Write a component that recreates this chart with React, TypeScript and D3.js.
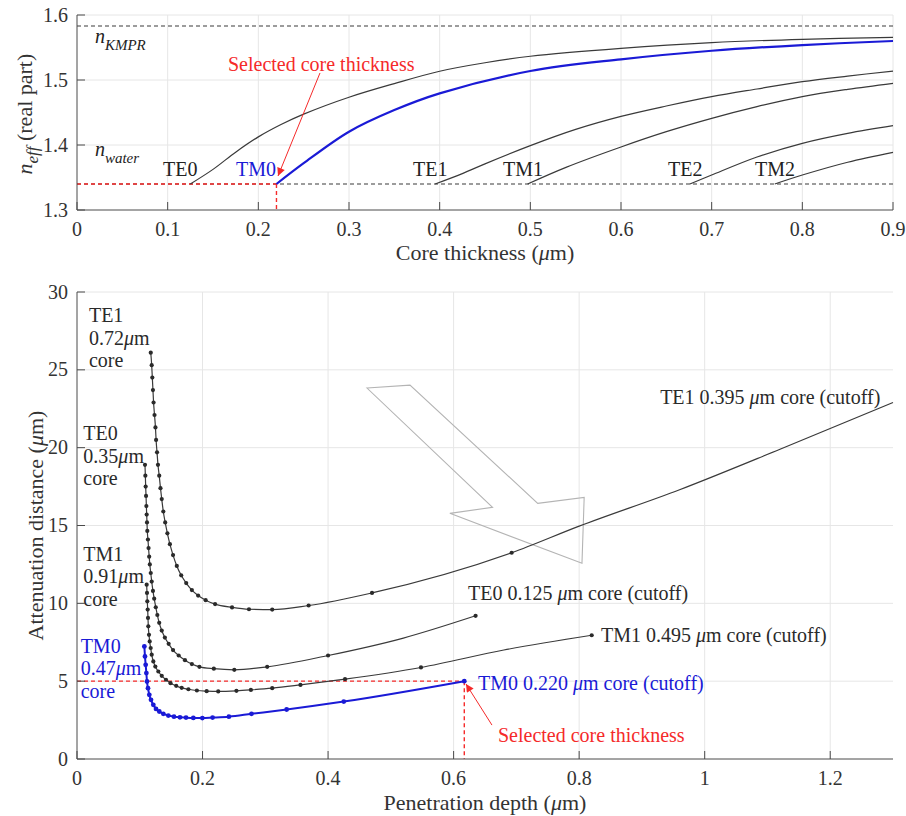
import React from 'react';
import * as d3 from 'd3';

type P = [number, number];

// ---------- Top panel: effective index vs core thickness ----------
const topXTicks = [0, 0.1, 0.2, 0.3, 0.4, 0.5, 0.6, 0.7, 0.8, 0.9];
const topYTicks = [1.3, 1.4, 1.5, 1.6];
const nKMPR = 1.583;
const nWater = 1.34;
const selectedCore = 0.22;

const te0Neff: P[] = [
  [0.125, 1.34], [0.15, 1.3625], [0.175, 1.389], [0.2, 1.4125], [0.225, 1.4315], [0.25, 1.4475],
  [0.3, 1.4735], [0.35, 1.4945], [0.4, 1.5135], [0.45, 1.5265], [0.5, 1.5365], [0.6, 1.5487], [0.7, 1.5575],
  [0.8, 1.5626], [0.9, 1.5657],
];
const tm0Neff: P[] = [
  [0.22, 1.34], [0.25, 1.372], [0.3, 1.4205], [0.35, 1.4538], [0.4, 1.4795], [0.5, 1.5138],
  [0.6, 1.5318], [0.7, 1.545], [0.8, 1.5538], [0.9, 1.56],
];
const te1Neff: P[] = [
  [0.395, 1.34], [0.425, 1.356], [0.45, 1.371], [0.5, 1.399], [0.55, 1.424], [0.6, 1.444],
  [0.65, 1.46], [0.7, 1.4744], [0.75, 1.4862], [0.8, 1.4974], [0.85, 1.506], [0.9, 1.5138],
];
const tm1Neff: P[] = [
  [0.497, 1.34], [0.54, 1.366], [0.6, 1.397], [0.65, 1.4205], [0.7, 1.441], [0.75, 1.459],
  [0.8, 1.4744], [0.85, 1.4856], [0.9, 1.4949],
];
const te2Neff: P[] = [
  [0.676, 1.34], [0.7, 1.3538], [0.75, 1.3815], [0.8, 1.4026], [0.85, 1.4179], [0.9, 1.4297],
];
const tm2Neff: P[] = [
  [0.7696, 1.34], [0.8, 1.3538], [0.85, 1.3735], [0.9, 1.3887],
];
const topModeLabels: { name: string; x: number; y: number }[] = [
  { name: 'TE0', x: 0.0949, y: 1.3523 },
  { name: 'TM0', x: 0.1754, y: 1.3523 },
  { name: 'TE1', x: 0.3706, y: 1.3523 },
  { name: 'TM1', x: 0.4699, y: 1.3523 },
  { name: 'TE2', x: 0.6518, y: 1.3523 },
  { name: 'TM2', x: 0.7478, y: 1.3523 },
];

// ---------- Bottom panel: attenuation distance vs penetration depth ----------
const bottomXTicks = [0, 0.2, 0.4, 0.6, 0.8, 1, 1.2];
const bottomYTicks = [0, 5, 10, 15, 20, 25, 30];
const selectedAtten = 5;
const selectedDepth = 0.617;

const te1Dots: P[] = [
  [0.1175, 26.1], [0.119, 25.3], [0.12, 24.5], [0.121, 23.7], [0.122, 22.9], [0.1235, 22.1],
  [0.125, 21.3], [0.126, 20.5], [0.1275, 19.7], [0.129, 18.9], [0.131, 18.2], [0.133, 17.4],
  [0.135, 16.7], [0.1375, 15.9], [0.1405, 15.2], [0.144, 14.5], [0.148, 13.8], [0.153, 13.1],
  [0.159, 12.4], [0.166, 11.8], [0.174, 11.3], [0.183, 10.85], [0.193, 10.5], [0.205, 10.2],
  [0.22, 9.95], [0.247, 9.74], [0.274, 9.62], [0.311, 9.6], [0.369, 9.86], [0.47, 10.67],
  [0.6925, 13.25],
];
const te1Bends: P[] = [[0.8, 14.96], [0.96, 17.3], [1.12, 19.9], [1.3, 22.9]];

const te0Dots: P[] = [
  [0.1083, 18.9], [0.1089, 18.2], [0.1094, 17.5], [0.11, 16.9], [0.1105, 16.25], [0.111, 15.7],
  [0.1115, 15.2], [0.112, 14.65], [0.113, 14.1], [0.114, 13.55], [0.115, 13.0], [0.116, 12.5],
  [0.1175, 11.95], [0.119, 11.4], [0.121, 10.8], [0.123, 10.3], [0.1255, 9.75], [0.128, 9.25],
  [0.131, 8.75], [0.135, 8.25], [0.14, 7.8], [0.146, 7.4], [0.153, 7.0], [0.162, 6.65],
  [0.172, 6.35], [0.183, 6.1], [0.195, 5.92], [0.218, 5.8], [0.2506, 5.73], [0.303, 5.92],
  [0.4, 6.65], [0.635, 9.2],
];
const te0Bends: P[] = [[0.52, 7.77]];

const tm1Dots: P[] = [
  [0.111, 11.2], [0.1115, 10.67], [0.112, 10.13], [0.1126, 9.6], [0.1131, 9.06], [0.1136, 8.52],
  [0.1147, 7.98], [0.1158, 7.55], [0.1174, 7.13], [0.119, 6.7], [0.1216, 6.27], [0.1248, 5.94],
  [0.1296, 5.62], [0.135, 5.34], [0.1418, 5.09], [0.149, 4.87], [0.158, 4.7], [0.1668, 4.57],
  [0.1775, 4.48], [0.191, 4.4], [0.2066, 4.36], [0.225, 4.34], [0.254, 4.38], [0.277, 4.44],
  [0.311, 4.55], [0.356, 4.76], [0.427, 5.13], [0.548, 5.88], [0.82, 7.95],
];
const tm1Bends: P[] = [[0.68, 7.0]];

const tm0Dots: P[] = [
  [0.1073, 7.23], [0.1083, 6.59], [0.1094, 6.05], [0.1105, 5.52], [0.1115, 4.98], [0.1131, 4.55],
  [0.1152, 4.12], [0.1179, 3.8], [0.1216, 3.48], [0.1259, 3.22], [0.1311, 3.05], [0.1375, 2.9],
  [0.1455, 2.79], [0.1545, 2.72], [0.164, 2.68], [0.1737, 2.66], [0.1853, 2.64], [0.1997, 2.63],
  [0.216, 2.66], [0.242, 2.72], [0.278, 2.9], [0.334, 3.18], [0.425, 3.69], [0.617, 5.0],
];

const hollowArrow: P[] = [
  [0.462, 23.83], [0.5305, 24.02], [0.734, 16.42], [0.808, 16.8], [0.8045, 12.57], [0.594, 15.78], [0.662, 16.17],
];

const FONT = '"Liberation Serif", "Times New Roman", serif';
const BLUE = '#1a1ad6';
const RED = '#f52a2a';
const INK = '#3a3a3a';
const AXIS = '#4a4a4a';
const GRID = '#e6e6e6';
const FS = 20;
const LFS = 22;

const merge = (a: P[], b: P[]) => [...a, ...b].sort((p, q) => p[0] - q[0]);

export default function App() {
  const xT = d3.scaleLinear().domain([0, 0.9]).range([77, 893]);
  const yT = d3.scaleLinear().domain([1.3, 1.6]).range([210, 15]);
  const xB = d3.scaleLinear().domain([0, 1.3]).range([77, 893]);
  const yB = d3.scaleLinear().domain([0, 30]).range([759, 292]);
  const lineT = d3.line<P>().x(d => xT(d[0])).y(d => yT(d[1])).curve(d3.curveCatmullRom.alpha(0.5));
  const lineB = d3.line<P>().x(d => xB(d[0])).y(d => yB(d[1])).curve(d3.curveMonotoneX);

  const topCurves = [
    { data: te0Neff, blue: false },
    { data: te1Neff, blue: false },
    { data: tm1Neff, blue: false },
    { data: te2Neff, blue: false },
    { data: tm2Neff, blue: false },
    { data: tm0Neff, blue: true },
  ];
  const bottomCurves = [
    { dots: te1Dots, line: merge(te1Dots, te1Bends), blue: false },
    { dots: te0Dots, line: merge(te0Dots, te0Bends), blue: false },
    { dots: tm1Dots, line: merge(tm1Dots, tm1Bends), blue: false },
    { dots: tm0Dots, line: tm0Dots, blue: true },
  ];

  const mu = (pre: string, post: string) => (
    <>
      {pre}<tspan fontStyle="italic">μ</tspan>{post}
    </>
  );

  const stacked = (x: number, y: number, lines: React.ReactNode[], color: string) => (
    <text x={xB(x)} y={yB(y)} fill={color} fontSize={FS} fontFamily={FONT}>
      {lines.map((l, i) => (
        <tspan key={i} x={xB(x)} dy={i === 0 ? 0 : 22.5}>{l}</tspan>
      ))}
    </text>
  );

  return (
    <svg width={906} height={816} style={{ position: 'absolute', left: 0, top: 0, background: '#fff' }}
      fontFamily={FONT}>
      <defs>
        <marker id="redHead" viewBox="0 0 10 10" refX="10" refY="5" markerWidth="10" markerHeight="8"
          markerUnits="userSpaceOnUse" orient="auto">
          <path d="M0,0 L10,5 L0,10 z" fill={RED} />
        </marker>
      </defs>
      <rect x={0} y={0} width={906} height={816} fill="#fff" />

      {/* ===== TOP PANEL ===== */}
      <g>
        {topXTicks.slice(1).map(t => (
          <line key={'tgx' + t} x1={xT(t)} x2={xT(t)} y1={yT(1.3)} y2={yT(1.6)} stroke={GRID} strokeWidth={1} />
        ))}
        {topYTicks.slice(1).map(t => (
          <line key={'tgy' + t} x1={xT(0)} x2={xT(0.9)} y1={yT(t)} y2={yT(t)} stroke={GRID} strokeWidth={1} />
        ))}
        <line x1={xT(0)} x2={xT(0.9)} y1={yT(nKMPR)} y2={yT(nKMPR)} stroke={INK} strokeWidth={1.1} strokeDasharray="4,3" />
        <line x1={xT(0)} x2={xT(0.9)} y1={yT(nWater)} y2={yT(nWater)} stroke={INK} strokeWidth={1.1} strokeDasharray="4,3" />
        <line x1={xT(0)} x2={xT(selectedCore)} y1={yT(nWater)} y2={yT(nWater)} stroke={RED} strokeWidth={1.4} strokeDasharray="4,3" />
        <line x1={xT(selectedCore)} x2={xT(selectedCore)} y1={yT(nWater)} y2={yT(1.3)} stroke={RED} strokeWidth={1.4} strokeDasharray="4,3" />
        {topCurves.map((c, i) => (
          <path key={'tc' + i} d={lineT(c.data) || ''} fill="none" stroke={c.blue ? BLUE : INK}
            strokeWidth={c.blue ? 2.2 : 1.2} />
        ))}
        {topModeLabels.map(l => (
          <text key={l.name} x={xT(l.x)} y={yT(l.y)} fontSize={FS} fill={l.name === 'TM0' ? BLUE : '#222'}>{l.name}</text>
        ))}
        <text x={xT(0.0198)} y={yT(1.5569)} fontSize={FS} fill="#222" fontStyle="italic">
          n<tspan fontSize={15} dy={7}>KMPR</tspan>
        </text>
        <text x={xT(0.0198)} y={yT(1.3831)} fontSize={FS} fill="#222" fontStyle="italic">
          n<tspan fontSize={15} dy={7}>water</tspan>
        </text>
        <text x={xT(0.1665)} y={yT(1.5138)} fontSize={FS} fill={RED}>Selected core thickness</text>
        <line x1={xT(0.268)} y1={yT(1.5108)} x2={xT(0.2217)} y2={yT(1.3523)} stroke={RED} strokeWidth={1}
          markerEnd="url(#redHead)" />
        {/* axes */}
        <line x1={xT(0)} x2={xT(0.9)} y1={yT(1.3)} y2={yT(1.3)} stroke={AXIS} strokeWidth={1} />
        <line x1={xT(0)} x2={xT(0)} y1={yT(1.3)} y2={yT(1.6)} stroke={AXIS} strokeWidth={1} />
        {topXTicks.map(t => (
          <g key={'tx' + t}>
            <line x1={xT(t)} x2={xT(t)} y1={yT(1.3)} y2={yT(1.3) - 8} stroke={AXIS} />
            <text x={xT(t)} y={yT(1.3) + 25.5} textAnchor="middle" fontSize={FS} fill="#333">{d3.format('~g')(t)}</text>
          </g>
        ))}
        {topYTicks.map(t => (
          <g key={'ty' + t}>
            <line x1={xT(0)} x2={xT(0) + 8} y1={yT(t)} y2={yT(t)} stroke={AXIS} />
            <text x={68} y={yT(t) + 6.5} textAnchor="end" fontSize={FS} fill="#333">{t.toFixed(1)}</text>
          </g>
        ))}
        <text x={xT(0.45)} y={260} textAnchor="middle" fontSize={LFS} fill="#333">
          {mu('Core thickness (', 'm)')}
        </text>
        <text transform={`translate(32,${yT(1.4475)}) rotate(-90)`} textAnchor="middle" fontSize={LFS} fill="#333">
          <tspan fontStyle="italic">n</tspan>
          <tspan fontStyle="italic" fontSize={17} dy={6}>eff</tspan>
          <tspan dy={-6}> (real part)</tspan>
        </text>
      </g>

      {/* ===== BOTTOM PANEL ===== */}
      <g>
        {bottomXTicks.slice(1).map(t => (
          <line key={'bgx' + t} x1={xB(t)} x2={xB(t)} y1={yB(0)} y2={yB(30)} stroke={GRID} strokeWidth={1} />
        ))}
        {bottomYTicks.slice(1).map(t => (
          <line key={'bgy' + t} x1={xB(0)} x2={xB(1.3)} y1={yB(t)} y2={yB(t)} stroke={GRID} strokeWidth={1} />
        ))}
        <polygon points={hollowArrow.map(p => `${xB(p[0])},${yB(p[1])}`).join(' ')} fill="none"
          stroke="#b4b4b4" strokeWidth={1.1} />
        <line x1={xB(0)} x2={xB(selectedDepth)} y1={yB(selectedAtten)} y2={yB(selectedAtten)} stroke={RED}
          strokeWidth={1.4} strokeDasharray="4,3" />
        <line x1={xB(selectedDepth)} x2={xB(selectedDepth)} y1={yB(selectedAtten)} y2={yB(0)} stroke={RED}
          strokeWidth={1.4} strokeDasharray="4,3" />
        {bottomCurves.map((c, i) => (
          <g key={'bc' + i}>
            <path d={lineB(c.line) || ''} fill="none" stroke={c.blue ? BLUE : INK} strokeWidth={c.blue ? 2 : 1.2} />
            {c.dots.map((p, j) => (
              <circle key={j} cx={xB(p[0])} cy={yB(p[1])} r={c.blue ? 2.4 : 2.1} fill={c.blue ? BLUE : '#2a2a2a'} />
            ))}
          </g>
        ))}
        {stacked(0.019, 28.07, ['TE1', mu('0.72', 'm'), 'core'], '#2a2a2a')}
        {stacked(0.0101, 20.49, ['TE0', mu('0.35', 'm'), 'core'], '#2a2a2a')}
        {stacked(0.0101, 12.72, ['TM1', mu('0.91', 'm'), 'core'], '#2a2a2a')}
        {stacked(0.0058, 6.81, ['TM0', mu('0.47', 'm'), 'core'], BLUE)}
        <text x={xB(0.929)} y={yB(22.8)} fontSize={FS} fill="#2a2a2a">{mu('TE1 0.395 ', 'm core (cutoff)')}</text>
        <text x={xB(0.6229)} y={yB(10.21)} fontSize={FS} fill="#2a2a2a">{mu('TE0 0.125 ', 'm core (cutoff)')}</text>
        <text x={xB(0.8348)} y={yB(7.52)} fontSize={FS} fill="#2a2a2a">{mu('TM1 0.495 ', 'm core (cutoff)')}</text>
        <text x={xB(0.6388)} y={yB(4.43)} fontSize={FS} fill={BLUE}>{mu('TM0 0.220 ', 'm core (cutoff)')}</text>
        <text x={xB(0.6707)} y={yB(1.09)} fontSize={FS} fill={RED}>Selected core thickness</text>
        <line x1={xB(0.6611)} y1={yB(2.18)} x2={xB(0.6197)} y2={yB(4.82)} stroke={RED} strokeWidth={1}
          markerEnd="url(#redHead)" />
        {/* axes */}
        <line x1={xB(0)} x2={xB(1.3)} y1={yB(0)} y2={yB(0)} stroke={AXIS} strokeWidth={1} />
        <line x1={xB(0)} x2={xB(0)} y1={yB(0)} y2={yB(30)} stroke={AXIS} strokeWidth={1} />
        {bottomXTicks.map(t => (
          <g key={'bx' + t}>
            <line x1={xB(t)} x2={xB(t)} y1={yB(0)} y2={yB(0) - 8} stroke={AXIS} />
            <text x={xB(t)} y={yB(0) + 25.5} textAnchor="middle" fontSize={FS} fill="#333">{d3.format('~g')(t)}</text>
          </g>
        ))}
        {bottomYTicks.map(t => (
          <g key={'by' + t}>
            <line x1={xB(0)} x2={xB(0) + 8} y1={yB(t)} y2={yB(t)} stroke={AXIS} />
            <text x={68} y={yB(t) + 6.5} textAnchor="end" fontSize={FS} fill="#333">{t}</text>
          </g>
        ))}
        <text x={xB(0.65)} y={809.5} textAnchor="middle" fontSize={LFS} fill="#333">
          {mu('Penetration depth (', 'm)')}
        </text>
        <text transform={`translate(43,${yB(15)}) rotate(-90)`} textAnchor="middle" fontSize={LFS} fill="#333">
          {mu('Attenuation distance (', 'm)')}
        </text>
      </g>
    </svg>
  );
}
